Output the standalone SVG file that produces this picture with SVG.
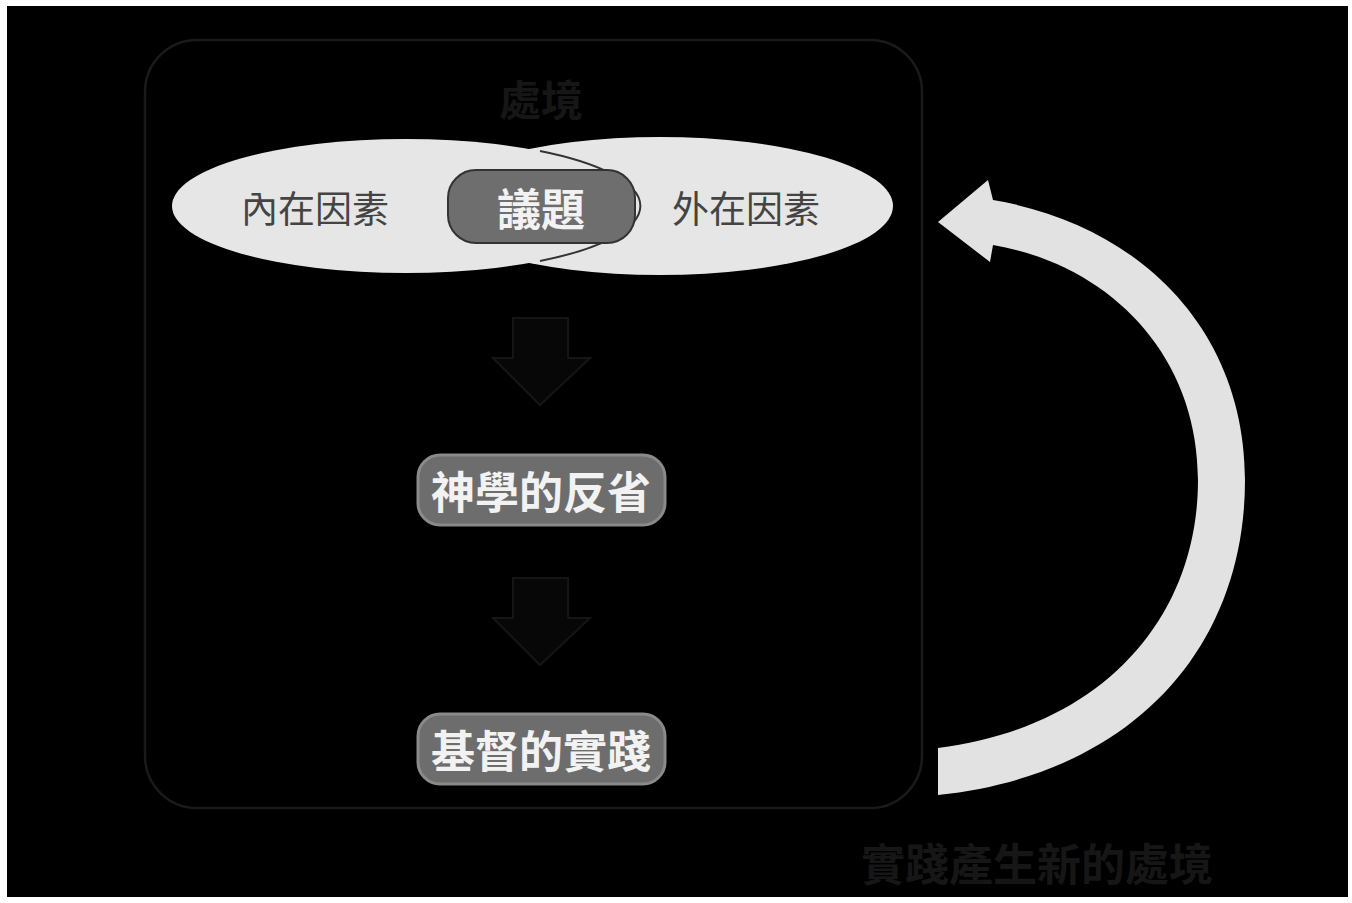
<svg xmlns="http://www.w3.org/2000/svg" width="1352" height="903" viewBox="0 0 1352 903">
<style>
.cjk{font-family:"Noto Sans CJK TC","Noto Sans CJK SC",sans-serif;text-anchor:middle;dominant-baseline:central}
.faint{fill:#161616;font-weight:bold}
.ell{fill:#e6e6e6}
.etext{fill:#444;font-size:37px}
.box{fill:#6d6d6d;stroke:#8a8a8a;stroke-width:3}
.btext{fill:#f2f2f2;font-weight:bold;font-size:44px}
.down{fill:#070707;stroke:#151515;stroke-width:2}
</style>
<rect x="0" y="0" width="1352" height="903" fill="#ffffff"/>
<rect x="7" y="6" width="1341" height="891" fill="#000000"/>
<g id="context">
<rect x="145" y="40" width="777" height="768" rx="52" fill="none" stroke="#1a1a1a" stroke-width="2.5"/>
<text class="cjk faint" x="541" y="97" font-size="42">處境</text>
</g>
<g id="external">
<ellipse class="ell" cx="660" cy="206" rx="233" ry="69"/>
<text class="cjk etext" x="746" y="207">外在因素</text>
</g>
<g id="internal">
<ellipse class="ell" cx="406" cy="206" rx="234" ry="67"/>
<path d="M540 151 A234 67 0 0 1 540 261" fill="none" stroke="#333" stroke-width="2"/>
<text class="cjk etext" x="315" y="207">內在因素</text>
</g>
<g id="issue">
<rect x="448" y="170" width="187" height="73" rx="28" fill="#6e6e6e" stroke="#333" stroke-width="2"/>
<text class="cjk btext" x="541" y="207">議題</text>
</g>
<g id="connectors">
<path class="down" d="M513 318 L568 318 L568 358 L590 358 L540 405 L493 358 L513 358 Z"/>
<path class="down" d="M513 578 L568 578 L568 618 L590 618 L540 665 L493 618 L513 618 Z"/>
<path id="cycle" fill="#e2e2e2" d="M938 795 C1130 775 1245 650 1245 480 C1245 330 1140 225 993 200 L988 180 L938 222 L990 262 L993 245 C1110 265 1198 355 1198 480 C1198 620 1100 728 938 748 Z"/>
</g>
<g id="reflection">
<rect class="box" x="418" y="455" width="247" height="70" rx="22"/>
<text class="cjk btext" x="541" y="490">神學的反省</text>
</g>
<g id="practice">
<rect class="box" x="418" y="714" width="247" height="70" rx="22"/>
<text class="cjk btext" x="541" y="749">基督的實踐</text>
</g>
<g id="new-context">
<text class="cjk faint" x="1037" y="862" font-size="44">實踐產生新的處境</text>
</g>
</svg>
